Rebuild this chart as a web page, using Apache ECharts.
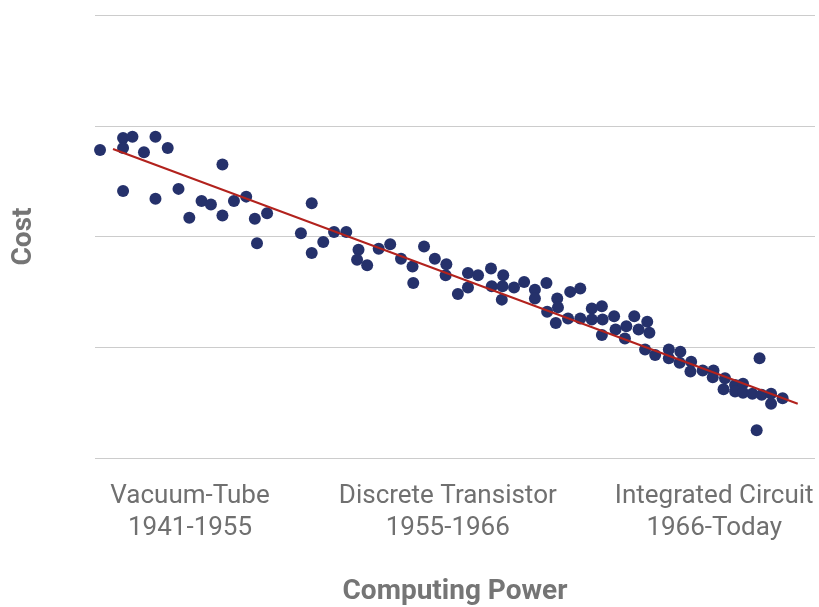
<!DOCTYPE html>
<html>
<head>
<meta charset="UTF-8">
<title>Cost vs Computing Power</title>
<script src="https://cdn.jsdelivr.net/npm/echarts@6/dist/echarts.min.js"></script>
<style>
  html, body { margin: 0; padding: 0; background: #fff; }
  #chart { width: 819px; height: 607px; }
</style>
</head>
<body>
<div id="chart"></div>
<script>
// era labels along the bottom and where they sit on the x scale
var eraLabels = ['Vacuum-Tube\n1941-1955', 'Discrete Transistor\n1955-1966', 'Integrated Circuit\n1966-Today'];
var eraPositions = [13.2, 49, 86];

// scatter points (computing power, cost)
var powerValues = [
  0.7, 3.9, 3.9, 5.2, 6.8, 8.4, 10.1, 17.7, 3.9, 8.4,
  11.6, 13.1, 14.8, 16.1, 17.7, 19.3, 21.0, 22.2, 23.9, 22.5,
  30.1, 28.6, 30.1, 31.7, 33.2, 34.9, 36.6, 36.4, 37.8, 39.4,
  41.0, 42.5, 44.1, 44.2, 45.7, 47.2, 48.8, 48.7, 50.4, 51.8,
  51.8, 53.2, 55.0, 56.7, 55.1, 56.6, 56.5, 58.2, 59.6, 61.1,
  61.1, 62.7, 62.8, 64.2, 64.3, 64.0, 66.0, 67.4, 65.7, 67.4,
  69.0, 70.4, 69.0, 70.5, 70.4, 72.1, 72.3, 73.8, 74.9, 73.6,
  75.5, 76.7, 77.0, 76.4, 77.8, 79.7, 79.7, 81.3, 81.2, 82.8,
  82.7, 84.4, 85.9, 85.8, 87.5, 87.3, 88.9, 90.0, 88.9, 90.0,
  91.3, 92.6, 93.9, 93.9, 95.5, 92.3, 91.9
];
var costValues = [
  2.78, 2.89, 2.80, 2.90, 2.76, 2.90, 2.80, 2.65, 2.41, 2.34,
  2.43, 2.17, 2.32, 2.29, 2.19, 2.32, 2.36, 2.16, 2.21, 1.94,
  2.30, 2.03, 1.85, 1.95, 2.04, 2.04, 1.88, 1.79, 1.74, 1.89,
  1.93, 1.80, 1.73, 1.58, 1.91, 1.80, 1.75, 1.65, 1.48, 1.67,
  1.54, 1.65, 1.71, 1.65, 1.55, 1.55, 1.43, 1.54, 1.59, 1.52,
  1.44, 1.58, 1.32, 1.44, 1.36, 1.22, 1.50, 1.53, 1.26, 1.26,
  1.35, 1.37, 1.25, 1.25, 1.11, 1.28, 1.16, 1.19, 1.28, 1.08,
  1.16, 1.23, 1.13, 0.98, 0.93, 0.98, 0.90, 0.96, 0.86, 0.87,
  0.78, 0.79, 0.79, 0.73, 0.72, 0.62, 0.66, 0.67, 0.60, 0.59,
  0.58, 0.57, 0.58, 0.49, 0.54, 0.90, 0.25
];

// trend line end points
var trendPower = [2.5, 97.6];
var trendCost = [2.79, 0.49];

var points = [];
for (var i = 0; i < powerValues.length; i++) {
  points.push([powerValues[i], costValues[i]]);
}
var trend = [];
for (var j = 0; j < trendPower.length; j++) {
  trend.push([trendPower[j], trendCost[j]]);
}

var myChart = echarts.init(document.getElementById('chart'));
myChart.setOption({
  animation: false,
  textStyle: { fontFamily: 'Roboto' },
  grid: { left: 95, right: 4, top: 15, bottom: 149, outerBoundsMode: 'none' },
  xAxis: {
    type: 'value',
    min: 0,
    max: 100,
    name: 'Computing Power',
    nameLocation: 'middle',
    nameGap: 120,
    nameTextStyle: { fontFamily: 'Roboto', fontSize: 28, fontWeight: 'bold', color: '#757575' },
    axisLine: { show: false },
    axisTick: { show: false },
    splitLine: { show: false },
    axisLabel: {
      customValues: eraPositions,
      margin: 22,
      fontSize: 26,
      lineHeight: 32,
      color: '#707070',
      formatter: function(val) {
        var k = eraPositions.indexOf(val);
        return k >= 0 ? eraLabels[k] : '';
      }
    }
  },
  yAxis: {
    type: 'value',
    min: 0,
    max: 4,
    interval: 1,
    name: 'Cost',
    nameLocation: 'middle',
    nameGap: 57,
    nameTextStyle: { fontFamily: 'Roboto', fontSize: 28, fontWeight: 'bold', color: '#757575' },
    axisLine: { show: false },
    axisTick: { show: false },
    axisLabel: { show: false },
    splitLine: { lineStyle: { color: '#cccccc', width: 1 } }
  },
  series: [{
    type: 'scatter',
    data: points,
    symbolSize: 12,
    itemStyle: { color: '#25316b', opacity: 1 }
  }, {
    type: 'line',
    data: trend,
    symbol: 'none',
    lineStyle: { color: '#b2221d', width: 2 },
    z: 3
  }]
});
</script>
</body>
</html>
